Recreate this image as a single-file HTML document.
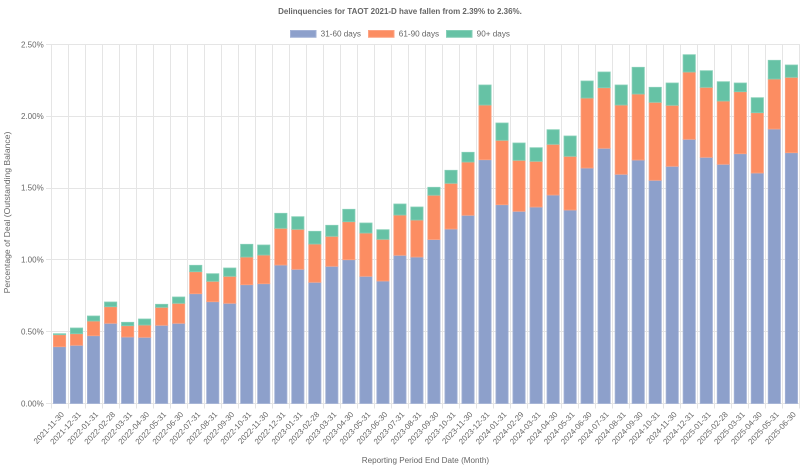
<!DOCTYPE html>
<html><head><meta charset="utf-8"><style>
html,body{margin:0;padding:0;background:#fff;}
svg{display:block;font-family:"Liberation Sans",Arial,sans-serif;}
</style></head><body>
<svg width="800" height="467" viewBox="0 0 800 467" xmlns="http://www.w3.org/2000/svg">
<rect width="800" height="467" fill="#fff"/>
<text x="400" y="14" text-anchor="middle" font-size="8" font-weight="bold" fill="#666" textLength="243.7" lengthAdjust="spacingAndGlyphs">Delinquencies for TAOT 2021-D have fallen from 2.39% to 2.36%.</text>
<!-- legend -->
<rect x="290.5" y="30.5" width="25.5" height="6.8" fill="#8da0cb" stroke="#a3b2d6" stroke-width="1"/>
<text x="320.7" y="36.6" font-size="8" fill="#666" textLength="40.3" lengthAdjust="spacingAndGlyphs">31-60 days</text>
<rect x="368.5" y="30.5" width="25.5" height="6.8" fill="#fc8d62" stroke="#fda383" stroke-width="1"/>
<text x="398.8" y="36.6" font-size="8" fill="#666" textLength="40.3" lengthAdjust="spacingAndGlyphs">61-90 days</text>
<rect x="446.5" y="30.5" width="25.5" height="6.8" fill="#66c2a5" stroke="#85cfb7" stroke-width="1"/>
<text x="476.7" y="36.6" font-size="8" fill="#666" textLength="33.3" lengthAdjust="spacingAndGlyphs">90+ days</text>
<!-- grid -->
<g stroke="#e5e5e5" stroke-width="1" fill="none">
<path d="M51.5 44V408.5M68.5 44V408.5M85.5 44V408.5M102.5 44V408.5M119.5 44V408.5M136.5 44V408.5M153.5 44V408.5M170.5 44V408.5M187.5 44V408.5M204.5 44V408.5M221.5 44V408.5M238.5 44V408.5M255.5 44V408.5M272.5 44V408.5M289.5 44V408.5M306.5 44V408.5M323.5 44V408.5M340.5 44V408.5M357.5 44V408.5M374.5 44V408.5M391.5 44V408.5M408.5 44V408.5M425.5 44V408.5M442.5 44V408.5M459.5 44V408.5M476.5 44V408.5M493.5 44V408.5M510.5 44V408.5M527.5 44V408.5M544.5 44V408.5M561.5 44V408.5M578.5 44V408.5M595.5 44V408.5M612.5 44V408.5M629.5 44V408.5M646.5 44V408.5M663.5 44V408.5M680.5 44V408.5M697.5 44V408.5M714.5 44V408.5M731.5 44V408.5M748.5 44V408.5M765.5 44V408.5M782.5 44V408.5M799.5 44V408.5"/>
<path d="M46 44.5H800M46 116.5H800M46 188.5H800M46 259.5H800M46 331.5H800M46 403.5H800"/>
</g>
<!-- y labels -->
<g font-size="8" fill="#666" text-anchor="end">
<text x="43.7" y="47.3">2.50%</text>
<text x="43.7" y="118.8">2.00%</text>
<text x="43.7" y="190.7">1.50%</text>
<text x="43.7" y="262.6">1.00%</text>
<text x="43.7" y="334.5">0.50%</text>
<text x="43.7" y="406.4">0.00%</text>
</g>
<text transform="translate(10,212.5) rotate(-90)" text-anchor="middle" font-size="8" fill="#666" textLength="161.7" lengthAdjust="spacingAndGlyphs">Percentage of Deal (Outstanding Balance)</text>
<text x="425.4" y="463" text-anchor="middle" font-size="8" fill="#666" textLength="127.3" lengthAdjust="spacingAndGlyphs">Reporting Period End Date (Month)</text>
<!-- bars -->
<g stroke-width="0.8">
<g fill="#8da0cb" stroke="#a3b2d6">
<rect x="53.4" y="346.7" width="12.25" height="56.8"/>
<rect x="70.4" y="345.3" width="12.25" height="58.2"/>
<rect x="87.4" y="335.7" width="12.25" height="67.8"/>
<rect x="104.5" y="323.3" width="12.25" height="80.2"/>
<rect x="121.5" y="337" width="12.25" height="66.5"/>
<rect x="138.5" y="337.3" width="12.25" height="66.2"/>
<rect x="155.5" y="325.3" width="12.25" height="78.2"/>
<rect x="172.5" y="323.3" width="12.25" height="80.2"/>
<rect x="189.6" y="293.7" width="12.25" height="109.8"/>
<rect x="206.6" y="301.7" width="12.25" height="101.8"/>
<rect x="223.6" y="303.3" width="12.25" height="100.2"/>
<rect x="240.6" y="284.7" width="12.25" height="118.8"/>
<rect x="257.6" y="283.7" width="12.25" height="119.8"/>
<rect x="274.7" y="265" width="12.25" height="138.5"/>
<rect x="291.7" y="269.3" width="12.25" height="134.2"/>
<rect x="308.7" y="282.3" width="12.25" height="121.2"/>
<rect x="325.7" y="266.3" width="12.25" height="137.2"/>
<rect x="342.7" y="259.7" width="12.25" height="143.8"/>
<rect x="359.8" y="276.3" width="12.25" height="127.2"/>
<rect x="376.8" y="281" width="12.25" height="122.5"/>
<rect x="393.8" y="255.3" width="12.25" height="148.2"/>
<rect x="410.8" y="257" width="12.25" height="146.5"/>
<rect x="427.8" y="239.5" width="12.25" height="164"/>
<rect x="444.9" y="229" width="12.25" height="174.5"/>
<rect x="461.9" y="215.3" width="12.25" height="188.2"/>
<rect x="478.9" y="159.7" width="12.25" height="243.8"/>
<rect x="495.9" y="204.7" width="12.25" height="198.8"/>
<rect x="512.9" y="211.3" width="12.25" height="192.2"/>
<rect x="530" y="207" width="12.25" height="196.5"/>
<rect x="547" y="195" width="12.25" height="208.5"/>
<rect x="564" y="210" width="12.25" height="193.5"/>
<rect x="581" y="168" width="12.25" height="235.5"/>
<rect x="598" y="148.3" width="12.25" height="255.2"/>
<rect x="615.1" y="174.3" width="12.25" height="229.2"/>
<rect x="632.1" y="160" width="12.25" height="243.5"/>
<rect x="649.1" y="180.3" width="12.25" height="223.2"/>
<rect x="666.1" y="166.3" width="12.25" height="237.2"/>
<rect x="683.1" y="139.3" width="12.25" height="264.2"/>
<rect x="700.2" y="157.3" width="12.25" height="246.2"/>
<rect x="717.2" y="164.3" width="12.25" height="239.2"/>
<rect x="734.2" y="153.7" width="12.25" height="249.8"/>
<rect x="751.2" y="173" width="12.25" height="230.5"/>
<rect x="768.2" y="129" width="12.25" height="274.5"/>
<rect x="785.3" y="152.7" width="12.25" height="250.8"/>
</g>
<g fill="#fc8d62" stroke="#fda383">
<rect x="53.4" y="334.7" width="12.25" height="12"/>
<rect x="70.4" y="333.7" width="12.25" height="11.6"/>
<rect x="87.4" y="321" width="12.25" height="14.7"/>
<rect x="104.5" y="306.7" width="12.25" height="16.6"/>
<rect x="121.5" y="325.7" width="12.25" height="11.3"/>
<rect x="138.5" y="325" width="12.25" height="12.3"/>
<rect x="155.5" y="307.3" width="12.25" height="18"/>
<rect x="172.5" y="303.3" width="12.25" height="20"/>
<rect x="189.6" y="271.7" width="12.25" height="22"/>
<rect x="206.6" y="281.3" width="12.25" height="20.4"/>
<rect x="223.6" y="276.3" width="12.25" height="27"/>
<rect x="240.6" y="257" width="12.25" height="27.7"/>
<rect x="257.6" y="255" width="12.25" height="28.7"/>
<rect x="274.7" y="228.3" width="12.25" height="36.7"/>
<rect x="291.7" y="229.3" width="12.25" height="40"/>
<rect x="308.7" y="244" width="12.25" height="38.3"/>
<rect x="325.7" y="236.3" width="12.25" height="30"/>
<rect x="342.7" y="221.7" width="12.25" height="38"/>
<rect x="359.8" y="233" width="12.25" height="43.3"/>
<rect x="376.8" y="239.3" width="12.25" height="41.7"/>
<rect x="393.8" y="215" width="12.25" height="40.3"/>
<rect x="410.8" y="220" width="12.25" height="37"/>
<rect x="427.8" y="195.2" width="12.25" height="44.3"/>
<rect x="444.9" y="183.3" width="12.25" height="45.7"/>
<rect x="461.9" y="162" width="12.25" height="53.3"/>
<rect x="478.9" y="105" width="12.25" height="54.7"/>
<rect x="495.9" y="140.3" width="12.25" height="64.4"/>
<rect x="512.9" y="160.3" width="12.25" height="51"/>
<rect x="530" y="161.3" width="12.25" height="45.7"/>
<rect x="547" y="144.3" width="12.25" height="50.7"/>
<rect x="564" y="156.3" width="12.25" height="53.7"/>
<rect x="581" y="98" width="12.25" height="70"/>
<rect x="598" y="87.7" width="12.25" height="60.6"/>
<rect x="615.1" y="105" width="12.25" height="69.3"/>
<rect x="632.1" y="94" width="12.25" height="66"/>
<rect x="649.1" y="102.3" width="12.25" height="78"/>
<rect x="666.1" y="105.3" width="12.25" height="61"/>
<rect x="683.1" y="72" width="12.25" height="67.3"/>
<rect x="700.2" y="87.3" width="12.25" height="70"/>
<rect x="717.2" y="101" width="12.25" height="63.3"/>
<rect x="734.2" y="91.7" width="12.25" height="62"/>
<rect x="751.2" y="112.7" width="12.25" height="60.3"/>
<rect x="768.2" y="79" width="12.25" height="50"/>
<rect x="785.3" y="77.3" width="12.25" height="75.4"/>
</g>
<g fill="#66c2a5" stroke="#85cfb7">
<rect x="53.4" y="333.7" width="12.25" height="1"/>
<rect x="70.4" y="328" width="12.25" height="5.7"/>
<rect x="87.4" y="316" width="12.25" height="5"/>
<rect x="104.5" y="302" width="12.25" height="4.7"/>
<rect x="121.5" y="322.3" width="12.25" height="3.4"/>
<rect x="138.5" y="319" width="12.25" height="6"/>
<rect x="155.5" y="304.3" width="12.25" height="3"/>
<rect x="172.5" y="297" width="12.25" height="6.3"/>
<rect x="189.6" y="265.3" width="12.25" height="6.4"/>
<rect x="206.6" y="273.7" width="12.25" height="7.6"/>
<rect x="223.6" y="268" width="12.25" height="8.3"/>
<rect x="240.6" y="244.3" width="12.25" height="12.7"/>
<rect x="257.6" y="245" width="12.25" height="10"/>
<rect x="274.7" y="213.3" width="12.25" height="15"/>
<rect x="291.7" y="216.7" width="12.25" height="12.6"/>
<rect x="308.7" y="231.3" width="12.25" height="12.7"/>
<rect x="325.7" y="225.3" width="12.25" height="11"/>
<rect x="342.7" y="209.3" width="12.25" height="12.4"/>
<rect x="359.8" y="223" width="12.25" height="10"/>
<rect x="376.8" y="229.7" width="12.25" height="9.6"/>
<rect x="393.8" y="204" width="12.25" height="11"/>
<rect x="410.8" y="207" width="12.25" height="13"/>
<rect x="427.8" y="187.3" width="12.25" height="7.9"/>
<rect x="444.9" y="170.3" width="12.25" height="13"/>
<rect x="461.9" y="152.3" width="12.25" height="9.7"/>
<rect x="478.9" y="85" width="12.25" height="20"/>
<rect x="495.9" y="123" width="12.25" height="17.3"/>
<rect x="512.9" y="143" width="12.25" height="17.3"/>
<rect x="530" y="147.7" width="12.25" height="13.6"/>
<rect x="547" y="129.7" width="12.25" height="14.6"/>
<rect x="564" y="136" width="12.25" height="20.3"/>
<rect x="581" y="81" width="12.25" height="17"/>
<rect x="598" y="72" width="12.25" height="15.7"/>
<rect x="615.1" y="85" width="12.25" height="20"/>
<rect x="632.1" y="67.3" width="12.25" height="26.7"/>
<rect x="649.1" y="87.3" width="12.25" height="15"/>
<rect x="666.1" y="83" width="12.25" height="22.3"/>
<rect x="683.1" y="54.7" width="12.25" height="17.3"/>
<rect x="700.2" y="70.7" width="12.25" height="16.6"/>
<rect x="717.2" y="81.7" width="12.25" height="19.3"/>
<rect x="734.2" y="83" width="12.25" height="8.7"/>
<rect x="751.2" y="97.7" width="12.25" height="15"/>
<rect x="768.2" y="60.3" width="12.25" height="18.7"/>
<rect x="785.3" y="65" width="12.25" height="12.3"/>
</g>
</g>
<!-- x labels -->
<g font-size="8" fill="#666" text-anchor="end">
<text transform="translate(62.5,413) rotate(-47)" dy="0.35em">2021-11-30</text>
<text transform="translate(79.5,413) rotate(-47)" dy="0.35em">2021-12-31</text>
<text transform="translate(96.6,413) rotate(-47)" dy="0.35em">2022-01-31</text>
<text transform="translate(113.6,413) rotate(-47)" dy="0.35em">2022-02-28</text>
<text transform="translate(130.6,413) rotate(-47)" dy="0.35em">2022-03-31</text>
<text transform="translate(147.6,413) rotate(-47)" dy="0.35em">2022-04-30</text>
<text transform="translate(164.6,413) rotate(-47)" dy="0.35em">2022-05-31</text>
<text transform="translate(181.7,413) rotate(-47)" dy="0.35em">2022-06-30</text>
<text transform="translate(198.7,413) rotate(-47)" dy="0.35em">2022-07-31</text>
<text transform="translate(215.7,413) rotate(-47)" dy="0.35em">2022-08-31</text>
<text transform="translate(232.7,413) rotate(-47)" dy="0.35em">2022-09-30</text>
<text transform="translate(249.7,413) rotate(-47)" dy="0.35em">2022-10-31</text>
<text transform="translate(266.8,413) rotate(-47)" dy="0.35em">2022-11-30</text>
<text transform="translate(283.8,413) rotate(-47)" dy="0.35em">2022-12-31</text>
<text transform="translate(300.8,413) rotate(-47)" dy="0.35em">2023-01-31</text>
<text transform="translate(317.8,413) rotate(-47)" dy="0.35em">2023-02-28</text>
<text transform="translate(334.8,413) rotate(-47)" dy="0.35em">2023-03-31</text>
<text transform="translate(351.9,413) rotate(-47)" dy="0.35em">2023-04-30</text>
<text transform="translate(368.9,413) rotate(-47)" dy="0.35em">2023-05-31</text>
<text transform="translate(385.9,413) rotate(-47)" dy="0.35em">2023-06-30</text>
<text transform="translate(402.9,413) rotate(-47)" dy="0.35em">2023-07-31</text>
<text transform="translate(419.9,413) rotate(-47)" dy="0.35em">2023-08-31</text>
<text transform="translate(437,413) rotate(-47)" dy="0.35em">2023-09-30</text>
<text transform="translate(454,413) rotate(-47)" dy="0.35em">2023-10-31</text>
<text transform="translate(471,413) rotate(-47)" dy="0.35em">2023-11-30</text>
<text transform="translate(488,413) rotate(-47)" dy="0.35em">2023-12-31</text>
<text transform="translate(505,413) rotate(-47)" dy="0.35em">2024-01-31</text>
<text transform="translate(522.1,413) rotate(-47)" dy="0.35em">2024-02-29</text>
<text transform="translate(539.1,413) rotate(-47)" dy="0.35em">2024-03-31</text>
<text transform="translate(556.1,413) rotate(-47)" dy="0.35em">2024-04-30</text>
<text transform="translate(573.1,413) rotate(-47)" dy="0.35em">2024-05-31</text>
<text transform="translate(590.1,413) rotate(-47)" dy="0.35em">2024-06-30</text>
<text transform="translate(607.2,413) rotate(-47)" dy="0.35em">2024-07-31</text>
<text transform="translate(624.2,413) rotate(-47)" dy="0.35em">2024-08-31</text>
<text transform="translate(641.2,413) rotate(-47)" dy="0.35em">2024-09-30</text>
<text transform="translate(658.2,413) rotate(-47)" dy="0.35em">2024-10-31</text>
<text transform="translate(675.2,413) rotate(-47)" dy="0.35em">2024-11-30</text>
<text transform="translate(692.3,413) rotate(-47)" dy="0.35em">2024-12-31</text>
<text transform="translate(709.3,413) rotate(-47)" dy="0.35em">2025-01-31</text>
<text transform="translate(726.3,413) rotate(-47)" dy="0.35em">2025-02-28</text>
<text transform="translate(743.3,413) rotate(-47)" dy="0.35em">2025-03-31</text>
<text transform="translate(760.3,413) rotate(-47)" dy="0.35em">2025-04-30</text>
<text transform="translate(777.4,413) rotate(-47)" dy="0.35em">2025-05-31</text>
<text transform="translate(794.4,413) rotate(-47)" dy="0.35em">2025-06-30</text>
</g>
</svg>
</body></html>
